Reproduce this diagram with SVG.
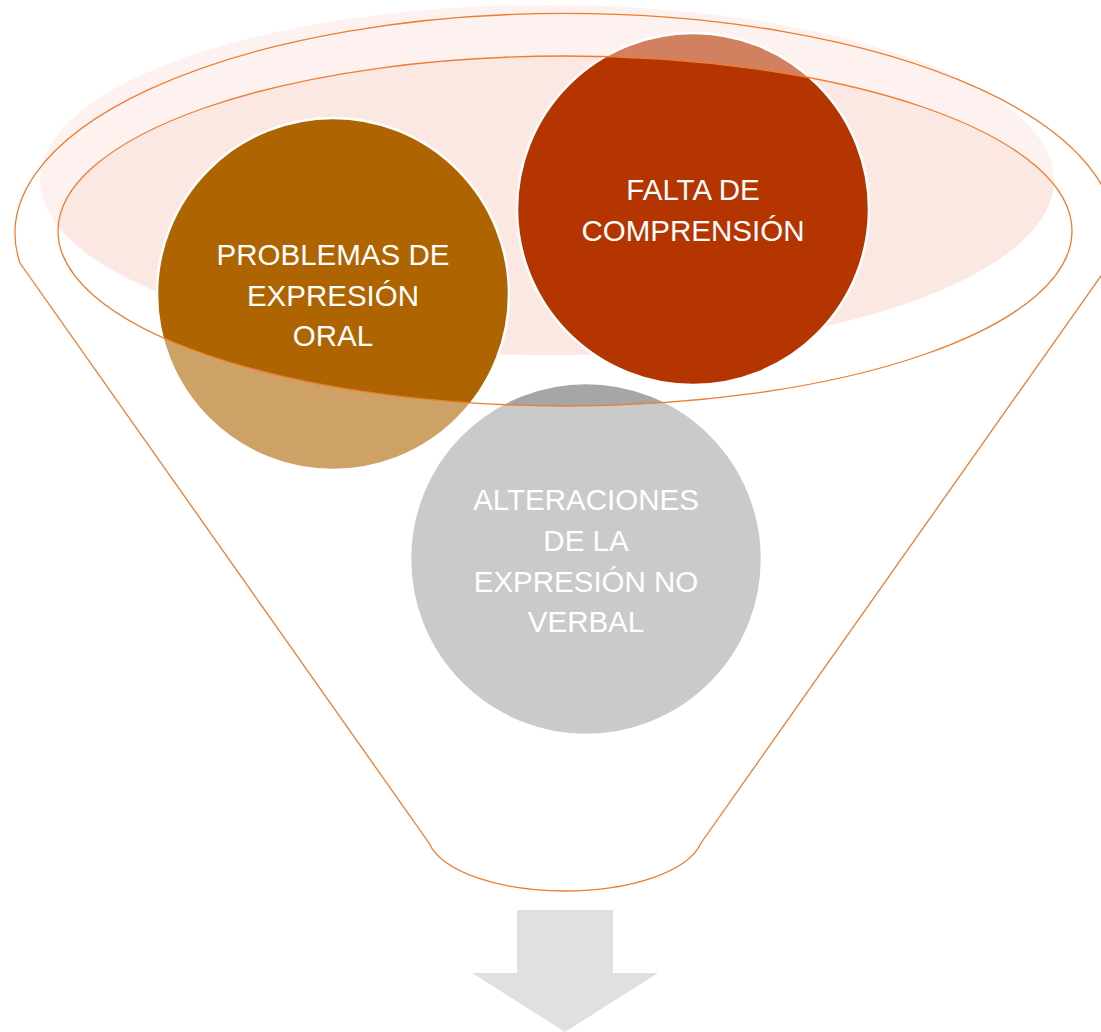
<svg xmlns="http://www.w3.org/2000/svg" width="1101" height="1032" viewBox="0 0 1101 1032">
<style>
.ring{fill:none;stroke:#fff;stroke-width:2.5}
.lbl{font-family:"Liberation Sans",Arial,sans-serif;font-size:29.5px;fill:#fff;text-anchor:middle}
.line{fill:none;stroke:#ED7D31;stroke-width:1.3}
</style>
<defs>
<clipPath id="inner"><ellipse cx="565" cy="231" rx="507" ry="175"/></clipPath>
</defs>
<g id="funnel-fill">
<ellipse cx="547" cy="180" rx="507" ry="175" fill="#FDF2EF"/>
<ellipse cx="547" cy="180" rx="507" ry="175" fill="#FBE8E3" clip-path="url(#inner)"/>
</g>
<g id="node-oral">
<circle cx="333" cy="294" r="176" fill="#AE6400" fill-opacity="0.6"/>
<circle cx="333" cy="294" r="176" fill="#AE6400" clip-path="url(#inner)"/>
<circle cx="333" cy="294" r="176" class="ring"/>
<text class="lbl"><tspan x="333" y="265">PROBLEMAS DE</tspan><tspan x="333" y="306">EXPRESIÓN</tspan><tspan x="333" y="346">ORAL</tspan></text>
</g>
<g id="node-comprension">
<circle cx="693" cy="209" r="176" fill="#B43500" fill-opacity="0.6"/>
<circle cx="693" cy="209" r="176" fill="#B43500" clip-path="url(#inner)"/>
<circle cx="693" cy="209" r="176" class="ring"/>
<text class="lbl"><tspan x="693" y="200">FALTA DE</tspan><tspan x="693" y="241">COMPRENSIÓN</tspan></text>
</g>
<g id="node-noverbal">
<circle cx="586" cy="559" r="176" fill="#A6A6A6" fill-opacity="0.6"/>
<circle cx="586" cy="559" r="176" fill="#A6A6A6" clip-path="url(#inner)"/>
<circle cx="586" cy="559" r="176" class="ring"/>
<text class="lbl"><tspan x="586" y="510">ALTERACIONES</tspan><tspan x="586" y="551">DE LA</tspan><tspan x="586" y="592">EXPRESIÓN NO</tspan><tspan x="586" y="632">VERBAL</tspan></text>
</g>
<g id="connectors">
<path class="line" d="M20,263 A550,220 0 1 1 1110,263 L701,843 C688,872 630,891 565,891 C500,891 442,872 429,843 Z"/>
<ellipse class="line" cx="565" cy="231" rx="507" ry="175"/>
<polygon id="arrow" points="517,910 613,910 613,973 658,973 565,1032 472,973 517,973" fill="#E0E0E0"/>
</g>
</svg>
